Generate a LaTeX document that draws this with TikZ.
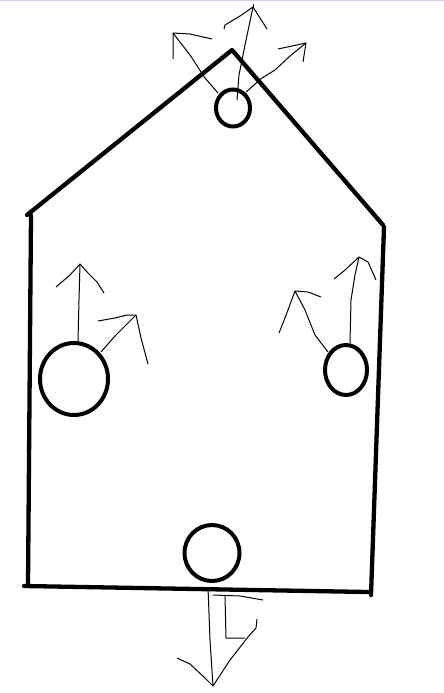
\documentclass[tikz,border=0pt]{standalone}
\begin{document}
\begin{tikzpicture}[x=1pt,y=-1pt,
  wall/.style={line width=4.3pt,line cap=round,line join=round},
  ring/.style={line width=4pt},
  pen/.style={line width=1pt,line join=round}]
\useasboundingbox[fill=white] (0,0) rectangle (444,693);
\draw[line width=1.5pt,color={rgb,255:red,200;green,210;blue,228}] (0,0.75) -- (444,0.75);
% house outline
\coordinate (roofl) at (27,215);
\coordinate (apex) at (232,50);
\coordinate (tr) at (383,225);
\coordinate (wlt) at (31,215);
\coordinate (wlb) at (28,585);
\coordinate (bbl) at (24,586);
\coordinate (bbr) at (368,592);
\coordinate (wrt) at (384,227);
\coordinate (wrb) at (371,595);
\draw[wall] (roofl) -- (apex) -- (tr);
\draw[wall] (wlt) -- (wlb);
\draw[wall] (bbl) -- (bbr);
\draw[wall] (wrt) -- (wrb);
% circles
\draw[ring] (233,108) ellipse [x radius=17,y radius=18.5];
\draw[ring] (74,379) ellipse [x radius=34,y radius=36];
\draw[ring] (346,370) ellipse [x radius=21,y radius=25];
\draw[ring] (212,553) ellipse [x radius=27.5,y radius=28];
% top arrows
\draw[pen] (218,93) -- (205,78) -- (190,55) -- (173,33);
\draw[pen] (173,59) -- (173,33) -- (190,34) -- (212,39);
\draw[pen] (237,100) -- (239,75) -- (245,45) -- (253,7);
\draw[pen] (224,29) -- (225,25) -- (240,16) -- (253,7) -- (260,18) -- (267,29);
\draw[pen] (253,7) -- (253,4);
\draw[pen] (246,92) -- (262,78) -- (275,70) -- (290,56) -- (306,43);
\draw[pen] (278,49) -- (292,46) -- (306,43) -- (303,62);
% left circle arrows
\draw[pen] (78,341) -- (79,300) -- (80,264);
\draw[pen] (56,287) -- (70,275) -- (80,264) -- (88,273) -- (97,282) -- (104,293);
\draw[pen] (101,352) -- (115,336) -- (125,326) -- (136,315);
\draw[pen] (98,321) -- (115,318) -- (127,315) -- (136,315) -- (141,338) -- (148,364);
% right circle arrows
\draw[pen] (350,343) -- (351,300) -- (355,275) -- (359,257);
\draw[pen] (334,279) -- (345,270) -- (359,257) -- (368,262) -- (376,280);
\draw[pen] (328,352) -- (315,335) -- (305,310) -- (295,291);
\draw[pen] (279,333) -- (285,318) -- (295,291) -- (308,292) -- (321,297);
% bottom arrows
\draw[pen] (208,587) -- (210,640) -- (213,686);
\draw[pen] (177,658) -- (190,664) -- (205,678) -- (213,686) -- (230,660) -- (248,637) -- (256,628) -- (257,619);
\draw[pen] (213,595) -- (240,596) -- (263,600);
\draw[pen] (225,596) -- (226,638) -- (245,638);
\end{tikzpicture}
\end{document}
